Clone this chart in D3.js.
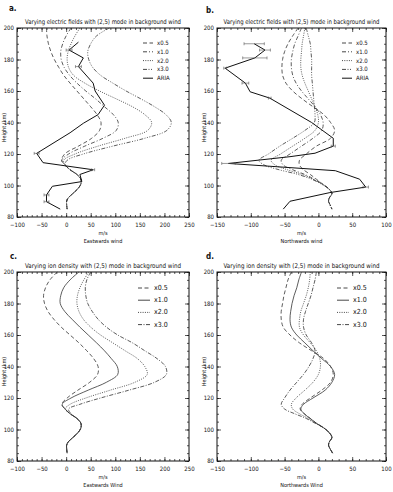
<!DOCTYPE html>
<html>
<head>
<meta charset="utf-8">
<script src="https://cdn.jsdelivr.net/npm/d3@7"></script>
<style>
  body { margin: 0; background: #fff; }
  svg text { font-family: "Liberation Sans Narrow", "DejaVu Sans Condensed", "Liberation Sans", sans-serif; fill: #111; }
</style>
</head>
<body>
<svg id="fig" width="393" height="492"></svg>
<script>
"use strict";

// heights (km) of the model profiles
let modelH = [200,195,190,185,180,175,170,165,160,155,150,145,140,135,130,125,120,116,113,110,107,104,101,98,95,92,90,88,85];

// a. eastward wind, varying electric field
let aX05 = [-40,-39,-36,-31,-24,-15,-5,8,22,36,50,63,71,68,52,25,-3,-9,-2,8,22,30,30,24,14,4,1,1,2];
let aX10 = [10,0,-7,-11,-10,-4,7,22,40,60,78,96,106,102,75,38,5,-9,-2,8,22,30,30,24,14,4,1,1,2];
let aX20 = [28,18,10,4,2,5,15,38,68,102,135,160,174,166,120,65,18,-5,-2,8,22,30,30,24,14,4,1,1,2];
let aX30 = [88,62,50,44,46,54,70,95,122,152,180,203,214,205,160,95,35,2,-2,8,22,30,30,24,14,4,1,1,2];
let aAriaH = [191,186,181,175.5,165,160,151,145,139.5,133.5,120.4,114.5,110,107,102.5,99.5,94,89.7,85];
let aAriaV = [25,6,35,25,55,59,78,65,35,8,-60,-47,55,28,32,-28,-40,-40,-12];
let aAriaE = [0,6,0,6,0,0,0,0,0,0,5,0,3,0,0,0,5,5,0];

// b. northward wind, varying electric field
let bX05 = [-30,-38,-45,-50,-53,-54,-53,-48,-38,-24,-8,8,18,24,18,-3,-18,-28,-28,-22,-12,-3,6,15,20,16,15,17,20];
let bX10 = [-25,-30,-35,-38,-40,-40,-38,-33,-25,-15,-5,3,7,5,-8,-25,-42,-55,-52,-38,-20,-6,6,15,20,16,15,17,20];
let bX20 = [-20,-22,-24,-25,-26,-26,-24,-20,-15,-10,-5,-1,0,-5,-20,-38,-56,-70,-64,-46,-24,-8,5,15,20,16,15,17,20];
let bX30 = [-18,-15,-12,-11,-10,-10,-10,-9,-8,-7,-6,-5,-6,-20,-38,-57,-74,-88,-80,-58,-30,-10,4,15,20,16,15,17,20];
let bAriaH = [190,186,181,174.5,165,159.5,155.5,140,130,125,120.5,118.3,114,109.4,104,99,95.5,90,85];
let bAriaV = [-95,-79,-94,-138,-108,-101,-72,-10,22,22,-5,-42,-133,25,61,70,17,-42,-52];
let bAriaE = [15,8,18,2,5,0,2,0,0,3,0,0,10,0,0,4,0,0,0];

// c. eastward wind, varying ion density
let cX05 = [-18,-33,-42,-46,-44,-37,-25,-10,8,26,42,56,65,64,48,24,2,-9,-2,8,22,30,30,24,14,4,1,1,2];
let cX10 = [26,8,-5,-11,-12,-3,12,28,45,62,78,92,104,105,82,45,10,-8,-2,8,22,30,30,24,14,4,1,1,2];
let cX20 = [46,36,28,23,22,26,35,50,70,95,120,145,160,165,140,90,40,8,-2,8,22,30,30,24,14,4,1,1,2];
let cX30 = [50,42,39,40,44,53,65,82,105,135,160,185,202,204,180,128,70,28,5,10,22,30,30,24,14,4,1,1,2];

// d. northward wind, varying ion density
let dX05 = [-40,-45,-48,-51,-53,-55,-55,-52,-42,-28,-10,8,18,22,18,5,-12,-24,-27,-21,-12,-3,8,16,20,16,15,17,21];
let dX10 = [-25,-29,-32,-36,-39,-41,-42,-40,-32,-20,-8,5,18,24,20,10,-8,-22,-26,-21,-12,-3,8,16,20,16,15,17,21];
let dX20 = [-12,-13,-15,-18,-22,-26,-28,-28,-22,-12,-3,2,3,0,-8,-20,-33,-40,-38,-28,-15,-4,8,16,20,16,15,17,21];
let dX30 = [-3,-5,-8,-11,-15,-19,-22,-22,-18,-10,-5,-8,-14,-22,-32,-42,-50,-55,-50,-35,-18,-5,8,16,20,16,15,17,21];

let legendE = ["x0.5", "x1.0", "x2.0", "x3.0", "ARIA"];
let legendI = ["x0.5", "x1.0", "x2.0", "x3.0"];
let heightTicks = [80,100,120,140,160,180,200];
let eastTicks = [-100,-50,0,50,100,150,200,250];
let northTicks = [-150,-100,-50,0,50,100];

// line styles
let dashE = ["4,2.5", "4,2,1,2", "1,1.3", "4,1.5,1,1.5,1,1.5,1,1.5"];
let dashI = ["4,2.5", null, "1,1.3", "4,1.5,1,1.5"];

let svg = d3.select("#fig");

let panels = [
  {tag: "a.", tx: 9, ty: 11, box: [17, 189, 28, 217], xd: [-100, 250], xt: eastTicks,
   title: "Varying electric fields with (2,5) mode in background wind",
   xlab: "Eastwards wind", series: [aX05, aX10, aX20, aX30], dash: dashE,
   aria: [aAriaH, aAriaV, aAriaE], leg: legendE, lx: 143, ly: 43, ldy: 8.8, lfs: 6},
  {tag: "b.", tx: 206, ty: 13, box: [217, 386, 28, 217], xd: [-150, 100], xt: northTicks,
   title: "Varying electric fields with (2,5) mode in background wind",
   xlab: "Northwards wind", series: [bX05, bX10, bX20, bX30], dash: dashE,
   aria: [bAriaH, bAriaV, bAriaE], leg: legendE, lx: 342, ly: 43, ldy: 8.8, lfs: 6},
  {tag: "c.", tx: 10, ty: 259, box: [17, 189, 272, 461], xd: [-100, 250], xt: eastTicks,
   title: "Varying ion density with (2,5) mode in background wind",
   xlab: "Eastwards Wind", series: [cX05, cX10, cX20, cX30], dash: dashI,
   aria: null, leg: legendI, lx: 138, ly: 288, ldy: 12.2, lfs: 7},
  {tag: "d.", tx: 206, ty: 259, box: [217, 386, 272, 461], xd: [-150, 100], xt: northTicks,
   title: "Varying ion density with (2,5) mode in background wind",
   xlab: "Northwards Wind", series: [dX05, dX10, dX20, dX30], dash: dashI,
   aria: null, leg: legendI, lx: 337, ly: 288, ldy: 12.2, lfs: 7}
];

panels.forEach(drawPanel);

function drawPanel(p) {
  let [x0, x1, y0, y1] = p.box;
  let x = d3.scaleLinear().domain(p.xd).range([x0, x1]);
  let y = d3.scaleLinear().domain([80, 200]).range([y1, y0]);
  let g = svg.append("g");
  let cx = (x0 + x1) / 2;

  // Axes: major + minor ticks on all four sides, pointing inward
  let minorX = d3.range(p.xd[0], p.xd[1] + 1, 10);
  let minorY = d3.range(80, 201, 5);
  let ax = [
    [d3.axisBottom(x).tickValues(p.xt).tickSize(-4).tickPadding(6).tickFormat(d3.format("d")), y1, 0],
    [d3.axisBottom(x).tickValues(minorX).tickSize(-2).tickFormat(""), y1, 0],
    [d3.axisTop(x).tickValues(p.xt).tickSize(-4).tickFormat(""), y0, 0],
    [d3.axisTop(x).tickValues(minorX).tickSize(-2).tickFormat(""), y0, 0],
    [d3.axisLeft(y).tickValues(heightTicks).tickSize(-4).tickPadding(3).tickFormat(d3.format("d")), 0, x0],
    [d3.axisLeft(y).tickValues(minorY).tickSize(-2).tickFormat(""), 0, x0],
    [d3.axisRight(y).tickValues(heightTicks).tickSize(-4).tickFormat(""), 0, x1],
    [d3.axisRight(y).tickValues(minorY).tickSize(-2).tickFormat(""), 0, x1]
  ];
  ax.forEach(([a, ty, tx]) => {
    let ag = g.append("g").attr("transform", `translate(${tx},${ty})`).call(a);
    ag.select(".domain").remove();
    ag.selectAll("line").attr("stroke", "#111").attr("stroke-width", 0.7);
    ag.selectAll("text").style("font-size", "6px").attr("fill", "#111");
  });

  g.append("rect").attr("x", x0).attr("y", y0).attr("width", x1 - x0).attr("height", y1 - y0)
    .attr("fill", "none").attr("stroke", "#111").attr("stroke-width", 1);

  // Texts
  g.append("text").attr("x", p.tx).attr("y", p.ty).text(p.tag)
    .style("font-size", "8px").style("font-weight", "bold");
  g.append("text").attr("x", cx).attr("y", y0 - 4).attr("text-anchor", "middle")
    .attr("textLength", 156).attr("lengthAdjust", "spacingAndGlyphs")
    .style("font-size", "6.5px").text(p.title);
  g.append("text").attr("x", cx).attr("y", y1 + 18).attr("text-anchor", "middle")
    .style("font-size", "5.5px").text("m/s");
  g.append("text").attr("x", cx).attr("y", y1 + 26).attr("text-anchor", "middle")
    .style("font-size", "5.5px").text(p.xlab);
  g.append("text").attr("transform", `translate(${x0 - 11},${(y0 + y1) / 2 + 5}) rotate(-90)`)
    .attr("text-anchor", "middle").style("font-size", "5.5px").text("Height (km)");

  // Model profiles
  let line = d3.line().x(d => x(d[1])).y(d => y(d[0])).curve(d3.curveCatmullRom.alpha(0.5));
  p.series.forEach((vals, i) => {
    let pts = modelH.map((h, k) => [h, vals[k]]);
    g.append("path").attr("d", line(pts)).attr("fill", "none")
      .attr("stroke", "#333").attr("stroke-width", 0.8)
      .attr("stroke-dasharray", p.dash[i]);
  });

  // ARIA observations with error bars
  if (p.aria) {
    let [hh, vv, ee] = p.aria;
    let pts = hh.map((h, k) => [h, vv[k], ee[k]]);
    g.append("path").attr("d", d3.line().x(d => x(d[1])).y(d => y(d[0]))(pts))
      .attr("fill", "none").attr("stroke", "#111").attr("stroke-width", 1);
    let eb = g.selectAll(".eb").data(pts.filter(d => d[2] > 0)).enter().append("g").attr("stroke", "#555").attr("stroke-width", 0.6);
    eb.append("line").attr("x1", d => x(d[1] - d[2])).attr("x2", d => x(d[1] + d[2]))
      .attr("y1", d => y(d[0])).attr("y2", d => y(d[0]));
    eb.append("line").attr("x1", d => x(d[1] - d[2])).attr("x2", d => x(d[1] - d[2]))
      .attr("y1", d => y(d[0]) - 1.5).attr("y2", d => y(d[0]) + 1.5);
    eb.append("line").attr("x1", d => x(d[1] + d[2])).attr("x2", d => x(d[1] + d[2]))
      .attr("y1", d => y(d[0]) - 1.5).attr("y2", d => y(d[0]) + 1.5);
  }

  // Legend
  let lw = p.lfs === 6 ? 10 : 12;
  p.leg.forEach((name, i) => {
    let ly = p.ly + i * p.ldy;
    let isAria = name === "ARIA";
    g.append("line").attr("x1", p.lx).attr("x2", p.lx + lw).attr("y1", ly).attr("y2", ly)
      .attr("stroke", isAria ? "#111" : "#333").attr("stroke-width", isAria ? 1 : 0.9)
      .attr("stroke-dasharray", isAria ? null : p.dash[i]);
    g.append("text").attr("x", p.lx + lw + 4).attr("y", ly + 2)
      .style("font-size", p.lfs + "px").text(name);
  });
}
</script>
</body>
</html>
